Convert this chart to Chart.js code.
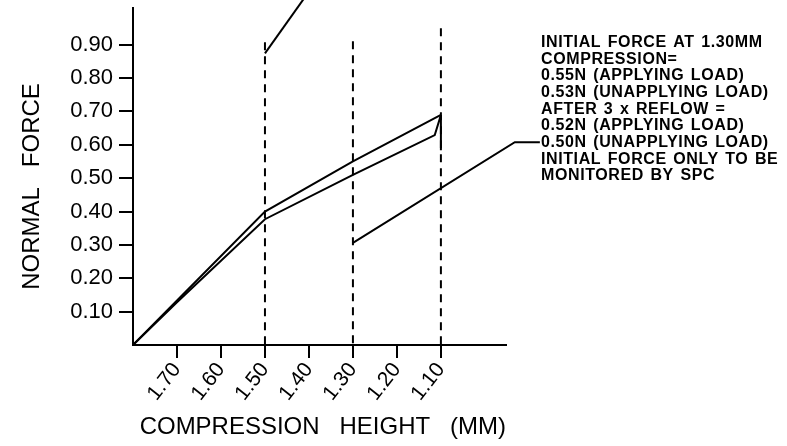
<!DOCTYPE html>
<html lang="en">
<head>
<meta charset="UTF-8">
<title>Normal Force vs Compression Height</title>
<script src="https://cdn.jsdelivr.net/npm/chart.js"></script>
<style>
  html, body { margin: 0; padding: 0; background: #fff; }
  #wrap { width: 787px; height: 446px; }
</style>
</head>
<body>
<div id="wrap"><canvas id="forceChart" width="787" height="446"></canvas></div>
<script>
// compression height (mm) / normal force (N)
const applyX = [1.80, 1.50, 1.30, 1.10];
const applyY = [0, 0.40, 0.55, 0.69];
const unapplyX = [1.80, 1.70, 1.50, 1.30, 1.114, 1.10];
const unapplyY = [0, 0.128, 0.377, 0.51, 0.629, 0.689];
const dropX = [1.10, 1.10];
const dropY = [0.689, 0.584];

// dashed verticals at the measured heights, and how far up they reach
const markX = [1.50, 1.30, 1.10];
const markTop = [0.907, 0.91, 0.949];

// leader lines for the note
const leader1X = [1.50, 1.398];
const leader1Y = [0.874, 1.063];
const leader2X = [1.30, 0.932, 0.875];
const leader2Y = [0.306, 0.608, 0.608];

const xTicks = [1.70, 1.60, 1.50, 1.40, 1.30, 1.20, 1.10];
const yTicks = [0.10, 0.20, 0.30, 0.40, 0.50, 0.60, 0.70, 0.80, 0.90];

const noteLines = [
    'INITIAL FORCE AT 1.30MM',
    'COMPRESSION=',
    '0.55N (APPLYING LOAD)',
    '0.53N (UNAPPLYING LOAD)',
    'AFTER 3 x REFLOW =',
    '0.52N (APPLYING LOAD)',
    '0.50N (UNAPPLYING LOAD)',
    'INITIAL FORCE ONLY TO BE',
    'MONITORED BY SPC'
];

const FONT = '"Liberation Sans", Arial, Helvetica, sans-serif';
Chart.defaults.font.family = FONT;
Chart.defaults.color = '#000';

function pts(xs, ys) {
    return xs.map((x, i) => ({ x: x, y: ys[i] }));
}

function line(data, extra) {
    return Object.assign({
        data: data,
        borderColor: '#000',
        borderWidth: 2,
        pointRadius: 0,
        fill: false,
        tension: 0
    }, extra || {});
}

let datasets = [
    line(pts(applyX, applyY)),
    line(pts(unapplyX, unapplyY)),
    line(pts(dropX, dropY))
];
markX.forEach((x, i) => {
    // start at the top so the dash pattern begins there, like the drawing
    datasets.push(line(pts([x, x], [markTop[i], 0]), { borderDash: [8, 6] }));
});
datasets.push(line(pts(leader1X, leader1Y), { clip: false }));
datasets.push(line(pts(leader2X, leader2Y), { clip: false }));

const notePlugin = {
    id: 'note',
    afterDraw(chart) {
        const ctx = chart.ctx, a = chart.chartArea;
        ctx.save();
        ctx.font = 'bold 16px ' + FONT;
        ctx.letterSpacing = '0.6px';
        ctx.wordSpacing = '1.5px';
        ctx.fillStyle = '#000';
        ctx.textBaseline = 'alphabetic';
        noteLines.forEach((t, i) => {
            ctx.fillText(t, a.right + 35, a.top + 39 + i * 16.65);
        });
        ctx.restore();
    }
};

const axisGrid = { drawOnChartArea: false, drawTicks: true, color: '#000', lineWidth: 2 };

new Chart(document.getElementById('forceChart'), {
    type: 'line',
    data: { datasets: datasets },
    plugins: [notePlugin],
    options: {
        responsive: false,
        animation: false,
        layout: { padding: { left: 0, right: 281, top: 8, bottom: 0 } },
        plugins: { legend: { display: false }, tooltip: { enabled: false } },
        scales: {
            x: {
                type: 'linear',
                reverse: true,
                min: 0.952,
                max: 1.80,
                afterBuildTicks: s => { s.ticks = xTicks.map(v => ({ value: v })); },
                afterFit: s => { s.height = 101; s.paddingLeft = 0; s.paddingRight = 0; },
                ticks: {
                    autoSkip: false,
                    minRotation: 52,
                    maxRotation: 52,
                    padding: 0,
                    font: { size: 21 },
                    callback: v => v.toFixed(2)
                },
                grid: Object.assign({ tickLength: 13 }, axisGrid),
                border: { display: true, color: '#000', width: 2 },
                title: {
                    display: true,
                    text: ' COMPRESSION   HEIGHT   (MM)',
                    font: { size: 24 },
                    padding: { top: 0, bottom: 4 }
                }
            },
            y: {
                type: 'linear',
                min: 0,
                max: 1.01,
                afterBuildTicks: s => { s.ticks = yTicks.map(v => ({ value: v })); },
                afterFit: s => { s.width = 133; s.paddingTop = 0; s.paddingBottom = 0; },
                ticks: {
                    padding: 6,
                    font: { size: 22 },
                    callback: v => v.toFixed(2)
                },
                grid: Object.assign({ tickLength: 14 }, axisGrid),
                border: { display: true, color: '#000', width: 2 },
                title: {
                    display: true,
                    text: 'NORMAL   FORCE   ',
                    font: { size: 24 },
                    padding: { top: 18, bottom: 0 }
                }
            }
        }
    }
});
</script>
</body>
</html>
